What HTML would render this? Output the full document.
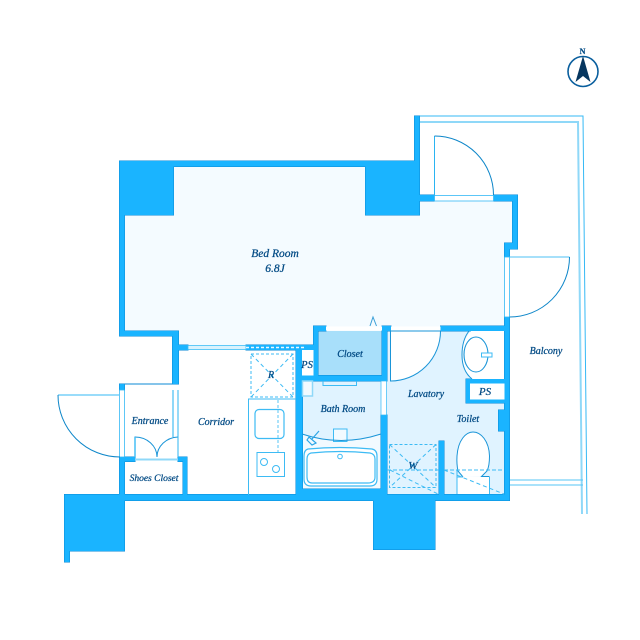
<!DOCTYPE html>
<html>
<head>
<meta charset="utf-8">
<style>
html,body{margin:0;padding:0;background:#fff;}
svg{display:block;}
text{font-family:"Liberation Serif",serif;font-style:italic;fill:#004a84;stroke:#004a84;stroke-width:0.25px;font-size:10px;text-anchor:middle;}
</style>
</head>
<body>
<svg width="640" height="640" viewBox="0 0 640 640" xmlns="http://www.w3.org/2000/svg">
<rect width="640" height="640" fill="#fff"/>

<!-- floors -->
<polygon points="124,166 419,166 419,201 512,201 512,243 504,243 504,345 178,345 178,331 124,331" fill="#f4fbff"/>
<rect x="318" y="331" width="65" height="45" fill="#a8dffa"/>
<rect x="302" y="381" width="79" height="108" fill="#e0f3ff"/>
<path d="M302,434 Q341,447 381,434 V489 H302 Z" fill="#f2faff"/>
<rect x="386" y="330" width="118" height="164" fill="#e0f3ff"/>

<!-- balcony -->
<g fill="none">
<path d="M419,116 H583 L587,514" stroke="#35b9f5" stroke-width="1"/>
<path d="M420,122 H578 L582,514" stroke="#8fd8f8" stroke-width="2"/>
<path d="M509,480 H583 M509,485 H583" stroke="#55c4f6" stroke-width="1"/>
</g>

<!-- walls -->
<defs>
<path id="w" d="M119.5,161 H419.5 V166.5 H119.5 Z
M414.5,116 H419.5 V161 H414.5 Z
M119.5,161 H173.5 V215 H124.5 V331 H178.5 V384 H124.5 V390 H119.5 V384 H172.5 V336 H119.5 Z
M365.5,161 H419.5 V195 H434.5 V201 H419.5 V215 H365.5 Z
M493.5,195 H517.5 V249 H509.5 V257 H504.5 V243 H512.5 V201 H493.5 Z
M178.5,345 H188 V350 H178.5 Z
M246,345 H314 V350 H246 Z
M296,350 H302 V381 H296 Z
M296,375.5 H387 V381 H296 Z
M296,381 H302.5 V489 H381 V415 H387 V495 H296 Z
M313.5,326 H326 V331 H318 V376 H313.5 Z
M382,326 H391 V331 H387 V381 H382 Z
M440.5,326 H509.5 V331 H440.5 Z
M504.5,317 H509.5 V500.5 H504.5 Z
M466,379 H504.5 V403 H466 Z
M498.5,410 H504.5 V431 H498.5 Z
M439,441 H444 V495 H439 Z
M119.5,457 H135 V461.5 H124.5 V495 H119.5 Z
M178,457 H187 V495 H183 V461.5 H178 Z
M119.5,494.5 H509.5 V500.5 H435 V549.5 H373.5 V500.5 H124.5 V551 H69.5 V562 H64.5 V494.5 Z"/>
</defs>
<use href="#w" fill="#0b8ad6" stroke="#0b8ad6" stroke-width="1"/>
<use href="#w" fill="#1ab4ff"/>

<!-- white inserts -->
<rect x="470" y="383.5" width="34.5" height="16" fill="#fff"/>
<rect x="302" y="350" width="11.5" height="25.5" fill="#fff"/>
<rect x="188" y="345.5" width="58" height="4" fill="#d8f2fd" stroke="#3fbdf5" stroke-width="0.8"/>
<path d="M246,347.5 H304" stroke="#e8f8ff" stroke-width="1.5" stroke-dasharray="3 2"/>
<rect x="326" y="326.5" width="56" height="4" fill="#fff"/>
<rect x="391" y="326.5" width="49.5" height="4" fill="#fff"/>
<rect x="381" y="381" width="5.5" height="34" fill="#fff" stroke="#35b9f5" stroke-width="0.7"/>
<rect x="434.5" y="195.5" width="59" height="5.5" fill="#fff" stroke="#35b9f5" stroke-width="0.8"/>
<rect x="504.5" y="257" width="5" height="60" fill="#fff" stroke="#35b9f5" stroke-width="0.8"/>
<rect x="119.5" y="390" width="5" height="67" fill="#fff" stroke="#35b9f5" stroke-width="0.8"/>

<!-- doors -->
<g fill="none">
<path d="M434.5,195 V136" stroke="#2ab4f2"/>
<path d="M434.5,136 A59,59 0 0 1 493.5,195" stroke="#0d86c9"/>
<path d="M509.5,257 H569.5" stroke="#4cc2f6"/>
<path d="M569.5,257 A60,60 0 0 1 509.5,317" stroke="#0d86c9"/>
<path d="M58,395 H119" stroke="#5cc8f7" stroke-width="1.2"/>
<path d="M58,395 A62,62 0 0 0 120,457" stroke="#0d86c9"/>
<path d="M135,457 V437 A22,20 0 0 1 157,457 A22,20 0 0 1 178,437" stroke="#1a95d8"/>
<path d="M135,437 V457" stroke="#45bff5" stroke-width="1.5"/>
<path d="M178,457 V390" stroke="#2eb5f2"/>
<path d="M173,390 V437" stroke="#8fd8f8" stroke-width="2"/>
<path d="M135,459.5 H178" stroke="#8fd8f8" stroke-width="2"/>
<path d="M440.5,331 A50,50 0 0 1 390.5,381 V331 Z" fill="#fff" stroke="#1a95d8"/>
<path d="M370,326 L373,317 L376.5,326" stroke="#3a9fd8"/>
</g>

<!-- kitchen -->
<g fill="none" stroke="#3dbbf4">
<path d="M248.5,495 V399 H296"/>
<rect x="251" y="354" width="42" height="43" stroke-dasharray="3 2"/>
<path d="M251,354 L293,397 M293,354 L251,397" stroke-dasharray="4 3"/>
<rect x="255" y="409.5" width="29" height="29" rx="4" stroke-width="1.2"/>
<path d="M278,400 V452" stroke="#8fd8f8" stroke-width="1.5" stroke-dasharray="3 2"/>
<rect x="257" y="452.5" width="27.5" height="24"/>
<circle cx="264" cy="462" r="3.5"/>
<circle cx="276" cy="469" r="3.5"/>
</g>

<!-- bath -->
<g fill="none" stroke="#3dbbf4">
<rect x="302.5" y="381" width="10" height="15" fill="#f2faff" stroke="#8fd8f8" stroke-width="1.5"/>
<path d="M323,381 V385.5 H356.5 V381"/>
<rect x="333.5" y="429" width="13.5" height="12.5" fill="#f2faff"/>
<path d="M302,434 Q341,447 381,434" stroke="#1a95d8"/>
<path d="M308,449 Q340,446 372,449 Q377,450 377,456 V479 Q377,486 370,486 H311 Q304,486 304,479 V456 Q304,450 308,449 Z" fill="#fff" stroke-width="1.2"/>
<path d="M311,453 Q340,450 370,453 Q375,454 375,459 V477 Q375,483 368,483 H312 Q307,483 307,477 V459 Q307,454 311,453 Z" stroke-width="1.2"/>
<circle cx="340" cy="456.5" r="2.3"/>
<path d="M307,440 L312,445 L316,443 L309,437 Z M312,439 L319,431" stroke="#2aa5e6" stroke-width="1.2"/>
</g>

<!-- washer -->
<g fill="none" stroke="#3dbbf4">
<rect x="389.5" y="444.5" width="46.5" height="43" stroke-dasharray="3 2"/>
<path d="M389.5,444.5 L436,487.5 M436,444.5 L389.5,487.5" stroke-dasharray="4 3"/>
<path d="M387,470 H439" stroke-dasharray="4 2"/>
<path d="M390,470 L438,494" stroke-dasharray="4 3"/>
</g>

<!-- toilet -->
<path d="M471,331 H504 V379 H471 Q462,370 462,355 Q462,340 471,331 Z" fill="#fff"/>
<g fill="none" stroke="#1a95d8">
<path d="M469,331 Q462,340 462,355 Q462,371 472,379"/>
<ellipse cx="476" cy="354.5" rx="12" ry="17.5" fill="#fff" stroke-width="1.1"/>
<rect x="481.5" y="353" width="10.5" height="4" fill="#fff" stroke="#3dbbf4"/>
<rect x="457" y="477" width="32.5" height="17" fill="#fff" stroke="none"/>
<path d="M463,477 L458,471 Q456.5,464 457,456 C458,440 466,432 473,432 C481,432 489,441 489.5,456 Q489.5,466 487,471 L481.5,476.5 H489.5" fill="#fff"/>
<path d="M457,470 V494 M489.5,477 V494 M463,477 H457" stroke="#3dbbf4"/>
<path d="M444,470 H504" stroke="#3dbbf4" stroke-dasharray="4 2"/>
<path d="M444,470 L504,494" stroke="#3dbbf4" stroke-dasharray="4 3"/>
</g>

<!-- north -->
<circle cx="583" cy="71.5" r="15" fill="#fff" stroke="#0a5f9e" stroke-width="1.6"/>
<polygon points="583,56 590.5,82 583,76 575.5,82" fill="#06365f"/>
<text x="582.5" y="54" style="font-size:8px;font-style:normal;font-weight:bold">N</text>

<!-- labels -->
<text x="275" y="257" style="font-size:11.5px">Bed Room</text>
<text x="275" y="272" style="font-size:11.5px">6.8J</text>
<text x="150" y="424">Entrance</text>
<text x="216" y="425">Corridor</text>
<text x="154" y="481" style="font-size:9.5px">Shoes Closet</text>
<text x="271" y="378">R</text>
<text x="307" y="368" style="font-size:10.5px">PS</text>
<text x="350" y="357">Closet</text>
<text x="343" y="412">Bath Room</text>
<text x="426" y="397">Lavatory</text>
<text x="485" y="395" style="font-size:11px">PS</text>
<text x="468" y="422">Toilet</text>
<text x="413" y="469" style="font-size:11px">W</text>
<text x="546" y="354">Balcony</text>
</svg>
</body>
</html>
